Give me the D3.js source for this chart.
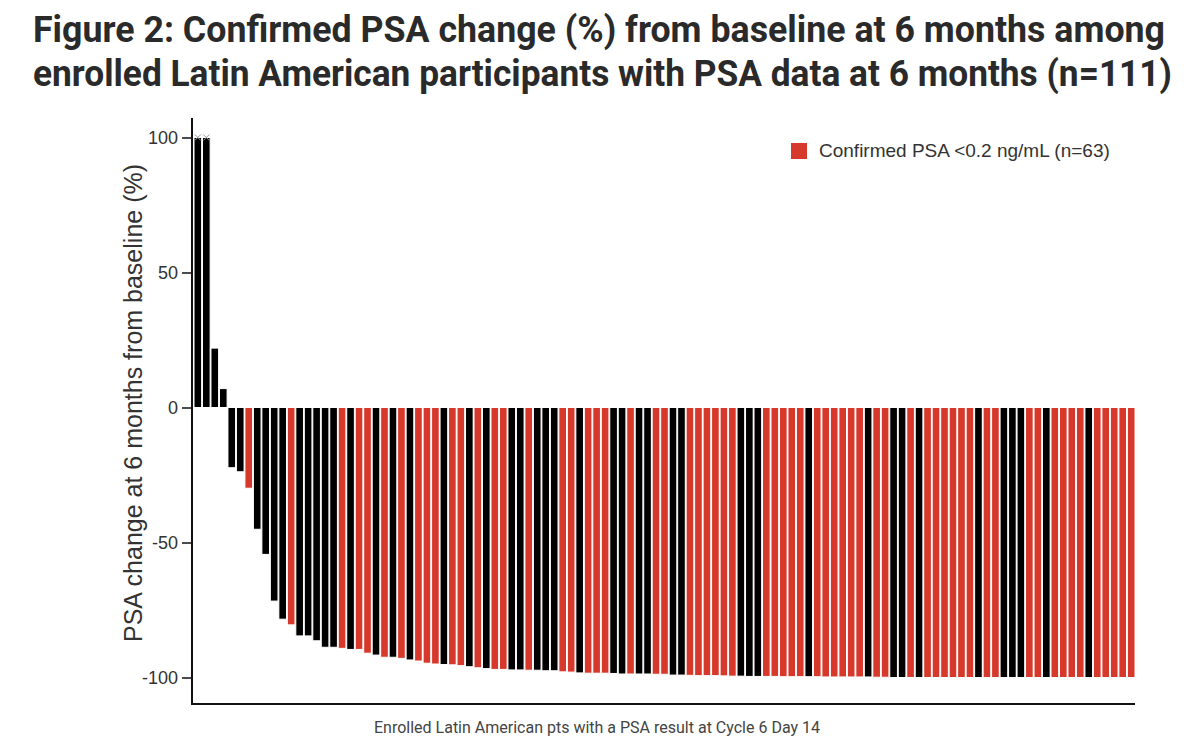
<!DOCTYPE html>
<html>
<head>
<meta charset="utf-8">
<script src="https://cdn.jsdelivr.net/npm/d3@7"></script>
<style>
  html, body { margin: 0; padding: 0; background: #fff; }
  svg { display: block; }
</style>
</head>
<body>
<svg id="chart" width="1200" height="748"></svg>
<script>
// ---- Data ----
const psaChange = [
  100, 100, 22, 7, -22.3, -23.8, -29.9, -45.1, -54.4, -71.7,
  -78.4, -80.5, -84.6, -84.6, -86.4, -88.8, -88.8, -89.2, -89.6, -89.6,
  -91.0, -91.7, -92.5, -92.5, -92.9, -93.5, -93.9, -94.7, -95.0, -95.2,
  -95.3, -95.6, -96.0, -96.4, -96.7, -97.0, -97.0, -97.2, -97.2, -97.3,
  -97.3, -97.5, -97.5, -97.9, -98.0, -98.3, -98.4, -98.4, -98.4, -98.5,
  -98.7, -98.7, -98.7, -98.7, -98.8, -98.8, -99.1, -99.1, -99.2, -99.3,
  -99.3, -99.3, -99.4, -99.5, -99.5, -99.6, -99.6, -99.6, -99.6, -99.7,
  -99.7, -99.7, -99.7, -99.7, -99.8, -99.8, -99.8, -99.8, -99.8, -99.8,
  -99.9, -99.9, -100, -100, -100, -100, -100, -100, -100, -100,
  -100, -100, -100, -100, -100, -100, -100, -100, -100, -100,
  -100, -100, -100, -100, -100, -100, -100, -100, -100, -100,
  -100
];
// 1 = confirmed PSA <0.2 ng/mL (red), 0 = not (black)
const confirmedPSA = [
  0,0,0,0,0,0,1,0,0,0,
  0,1,0,0,0,0,0,1,0,1,
  1,0,1,0,1,0,1,1,1,0,
  1,1,0,1,0,1,1,0,0,1,
  0,0,0,1,1,0,1,1,1,0,
  0,1,0,0,1,1,0,0,1,1,
  1,1,1,1,0,0,0,1,1,1,
  1,1,0,1,1,1,1,1,1,0,
  1,1,0,0,1,0,1,1,1,1,
  1,1,0,1,1,0,0,0,1,1,
  0,1,1,1,1,0,1,1,1,1,
  1
];
const cappedBars = [1, 2];           // participants whose change exceeds +100% (capped)
const participants = psaChange.map((_, i) => i + 1);
const yTicks = [100, 50, 0, -50, -100];
const titleLines = [
  "Figure 2: Confirmed PSA change (%) from baseline at 6 months among",
  "enrolled Latin American participants with PSA data at 6 months (n=111)"
];
const yAxisTitle = "PSA change at 6 months from baseline (%)";
const xAxisTitle = "Enrolled Latin American pts with a PSA result at Cycle 6 Day 14";
const legendLabel = "Confirmed PSA <0.2 ng/mL (n=63)";

// ---- Drawing ----
const RED = "#d6392b", BLACK = "#000000";
const svg = d3.select("#chart");

// Title
svg.selectAll("text.title").data(titleLines).join("text")
  .attr("class", "title")
  .attr("x", 33)
  .attr("y", (d, i) => 42 + i * 44)
  .attr("textLength", (d, i) => i === 0 ? 1132 : 1139)
  .attr("lengthAdjust", "spacingAndGlyphs")
  .attr("font-family", "Roboto, 'Liberation Sans', sans-serif")
  .attr("font-weight", 700)
  .attr("font-size", 36)
  .attr("fill", "#2a2a2a")
  .text(d => d);

const x = d3.scaleBand().domain(participants).range([194, 1135]).paddingInner(0.1).paddingOuter(0);
const y = d3.scaleLinear().domain([-100, 100]).range([677.5, 137.5]);

// Bars
svg.append("g").selectAll("rect").data(participants).join("rect")
  .attr("x", d => x(d))
  .attr("width", x.bandwidth())
  .attr("y", d => y(Math.max(0, psaChange[d - 1])))
  .attr("height", d => Math.abs(y(psaChange[d - 1]) - y(0)))
  .attr("fill", d => confirmedPSA[d - 1] ? RED : BLACK)
  .attr("stroke", "#fff")
  .attr("stroke-width", 1);

// Cap markers on capped bars
svg.append("g").selectAll("path").data(cappedBars).join("path")
  .attr("d", d => {
    const cx = x(d) + x.bandwidth() / 2, cy = y(psaChange[d - 1]);
    return `M${cx - 3},${cy - 3}L${cx + 3},${cy + 3}M${cx - 3},${cy + 3}L${cx + 3},${cy - 3}`;
  })
  .attr("stroke", "#999").attr("stroke-width", 1).attr("fill", "none");

// Y axis
const yAxis = svg.append("g").attr("transform", "translate(192,0)")
  .call(d3.axisLeft(y).tickValues(yTicks).tickSize(10).tickPadding(4).tickFormat(d => String(d)));
yAxis.select(".domain").remove();
yAxis.selectAll(".tick line").attr("stroke", "#111").attr("stroke-width", 1.5);
yAxis.selectAll(".tick text")
  .attr("font-family", "'Liberation Sans', Arial, sans-serif")
  .attr("font-size", 18).attr("fill", "#333");
svg.append("line").attr("x1", 192).attr("x2", 192).attr("y1", 118).attr("y2", 705)
  .attr("stroke", "#111").attr("stroke-width", 2);

// X axis line
svg.append("line").attr("x1", 191).attr("x2", 1135).attr("y1", 704).attr("y2", 704)
  .attr("stroke", "#111").attr("stroke-width", 2);

// Axis titles
svg.append("text")
  .attr("transform", "translate(142,403) rotate(-90)")
  .attr("text-anchor", "middle")
  .attr("font-family", "'Liberation Sans', Arial, sans-serif")
  .attr("font-size", 25).attr("fill", "#333")
  .text(yAxisTitle);

svg.append("text")
  .attr("x", 597).attr("y", 733)
  .attr("text-anchor", "middle")
  .attr("font-family", "Roboto, 'Liberation Sans', sans-serif")
  .attr("font-size", 16).attr("fill", "#444")
  .text(xAxisTitle);

// Legend
const lg = svg.append("g").attr("transform", "translate(791,143)");
lg.append("rect").attr("width", 16).attr("height", 16).attr("fill", RED);
lg.append("text").attr("x", 28).attr("y", 14)
  .attr("font-family", "'Liberation Sans', Arial, sans-serif")
  .attr("font-size", 19).attr("fill", "#333")
  .text(legendLabel);
</script>
</body>
</html>
